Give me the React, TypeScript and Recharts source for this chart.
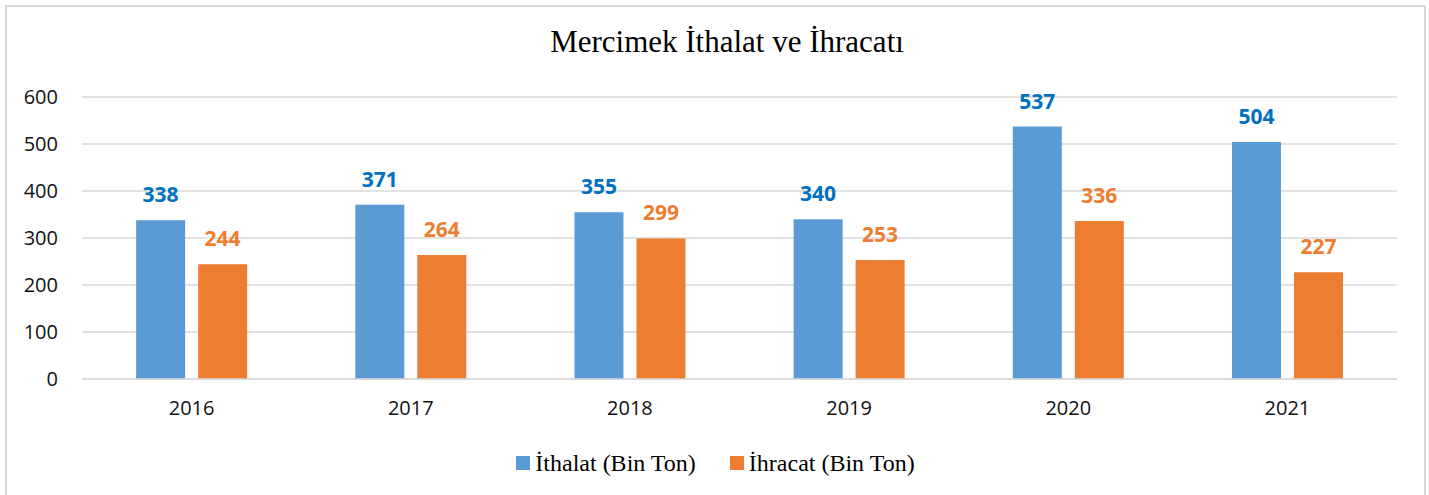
import { Bar, BarChart, CartesianGrid, LabelList, Legend, XAxis, YAxis } from "recharts";

const years = ["2016", "2017", "2018", "2019", "2020", "2021"];
const ithalat = [338, 371, 355, 340, 537, 504];
const ihracat = [244, 264, 299, 253, 336, 227];
const yTicks = [0, 100, 200, 300, 400, 500, 600];

const data = years.map((year, i) => ({ year, ithalat: ithalat[i], ihracat: ihracat[i] }));

const serif = '"Liberation Serif", "Times New Roman", serif';
const sans = '"Open Sans", "Noto Sans", sans-serif';
const seriesOrder = ["ithalat", "ihracat"];

function LegendContent(props: any) {
  const payload = [...(props.payload || [])].sort(
    (a: any, b: any) => seriesOrder.indexOf(a.dataKey) - seriesOrder.indexOf(b.dataKey)
  );
  return (
    <div
      style={{
        display: "flex",
        justifyContent: "center",
        alignItems: "center",
        height: 30,
        fontFamily: serif,
        fontSize: 24,
        color: "#000",
      }}
    >
      {payload.map((entry: any, i: number) => (
        <span
          key={entry.value}
          style={{ display: "flex", alignItems: "center", marginRight: i < payload.length - 1 ? 34 : 0 }}
        >
          <span style={{ display: "inline-block", width: 14, height: 14, background: entry.color, marginRight: 5 }} />
          {entry.value}
        </span>
      ))}
    </div>
  );
}

export default function App() {
  return (
    <div
      style={{
        position: "fixed",
        top: 5,
        left: 5,
        width: 1421,
        height: 500,
        border: "2px solid #d9d9d9",
        boxSizing: "border-box",
        background: "#fff",
      }}
    >
      <div
        style={{
          position: "absolute",
          top: 19,
          left: 0,
          width: 1417,
          paddingLeft: 23,
          boxSizing: "border-box",
          textAlign: "center",
          fontFamily: serif,
          fontSize: 31,
          lineHeight: 1,
          color: "#000",
        }}
      >
        Mercimek İthalat ve İhracatı
      </div>
      <BarChart
        width={1417}
        height={486}
        data={data}
        margin={{ top: 90, right: 27, left: 20, bottom: 54 }}
        barCategoryGap="24.7%"
        barGap={13}
      >
        <CartesianGrid vertical={false} stroke="#d9d9d9" strokeWidth={1.3} />
        <XAxis
          dataKey="year"
          height={30}
          axisLine={{ stroke: "#d9d9d9", strokeWidth: 1.3 }}
          tickLine={false}
          tickSize={0}
          tickMargin={22}
          tick={{ fill: "#111", fontFamily: sans, fontSize: 20 }}
        />
        <YAxis
          width={55}
          domain={[0, 600]}
          ticks={yTicks}
          axisLine={false}
          tickLine={false}
          tickSize={0}
          tickMargin={24}
          tick={{ fill: "#111", fontFamily: sans, fontSize: 20 }}
        />
        <Legend content={<LegendContent />} wrapperStyle={{ top: 441, left: 0, width: 1417 }} />
        <Bar dataKey="ithalat" name="İthalat (Bin Ton)" fill="#5B9BD5" isAnimationActive={false}>
          <LabelList
            dataKey="ithalat"
            position="top"
            offset={18}
            fill="#0070C0"
            fontFamily={sans}
            fontSize={21}
            fontWeight={700}
          />
        </Bar>
        <Bar dataKey="ihracat" name="İhracat (Bin Ton)" fill="#ED7D31" isAnimationActive={false}>
          <LabelList
            dataKey="ihracat"
            position="top"
            offset={18}
            fill="#ED7D31"
            fontFamily={sans}
            fontSize={21}
            fontWeight={700}
          />
        </Bar>
      </BarChart>
    </div>
  );
}
